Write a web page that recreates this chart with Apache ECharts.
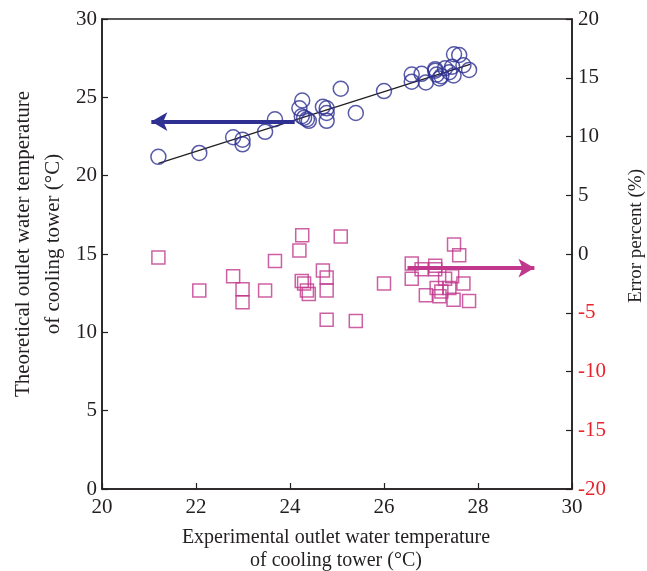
<!DOCTYPE html>
<html>
<head>
<meta charset="utf-8">
<script src="https://cdn.jsdelivr.net/npm/echarts@6/dist/echarts.min.js"></script>
<style>
  html, body { margin: 0; padding: 0; background: #fff; }
  #chart { width: 647px; height: 571px; }
</style>
</head>
<body>
<div id="chart"></div>
<script>
// experimental outlet temperature (x) for each test
const expTemp = [21.2, 22.07, 22.79, 22.99, 22.99, 23.47, 23.68, 24.2, 24.26, 24.25,
  24.3, 24.36, 24.4, 24.7, 24.78, 24.78, 24.78, 25.08, 25.4, 26.0,
  26.59, 26.59, 26.8, 26.89, 27.09, 27.09, 27.12, 27.18, 27.22, 27.3,
  27.39, 27.48, 27.49, 27.6, 27.69, 27.81, 27.45]
// theoretical outlet temperature (left axis)
const theoTemp = [21.2, 21.45, 22.45, 22.3, 22.0, 22.8, 23.6, 24.3, 24.8, 23.8,
  23.7, 23.6, 23.5, 24.4, 24.3, 24.0, 23.5, 25.55, 24.0, 25.4,
  26.45, 26.0, 26.5, 25.95, 26.8, 26.7, 26.45, 26.2, 26.35, 26.85,
  26.6, 26.4, 27.75, 27.7, 27.05, 26.75, 26.95]
// error percent (right axis)
const errPct = [-0.3, -3.1, -1.9, -3.0, -4.1, -3.1, -0.6, 0.3, 1.6, -2.3,
  -2.5, -3.1, -3.4, -1.4, -2.0, -3.1, -5.6, 1.5, -5.7, -2.5,
  -0.8, -2.1, -1.3, -3.5, -1.3, -1.0, -2.9, -3.6, -3.2, -2.1,
  -2.9, -3.9, 0.8, -0.1, -2.5, -4.0, -1.9]
// fitted line end points
const fitLine = [[21.2, 20.79], [27.83, 27.11]]

const ink = '#231f20'
const blue = '#2e3192'
const pink = '#c0378c'
const red = '#e8232b'
const font = '"Liberation Serif", "Times New Roman", serif'

const chart = echarts.init(document.getElementById('chart'))

const axisCommon = {
  axisLine: { show: true, lineStyle: { color: ink, width: 1.5 } },
  axisTick: { show: true, inside: true, length: 6, lineStyle: { color: ink, width: 1.2 } },
  splitLine: { show: false },
  axisLabel: { fontFamily: font, fontSize: 21, color: ink }
}

const option = {
  animation: false,
  grid: {
    left: 102, right: 75, top: 19, bottom: 82,
    show: true, borderColor: ink, borderWidth: 1.5
  },
  xAxis: {
    type: 'value', min: 20, max: 30, interval: 2,
    ...axisCommon,
    axisLabel: { ...axisCommon.axisLabel, margin: 8 }
  },
  yAxis: [
    {
      type: 'value', min: 0, max: 30, interval: 5, position: 'left',
      ...axisCommon,
      axisLabel: { ...axisCommon.axisLabel, margin: 5 }
    },
    {
      type: 'value', min: -20, max: 20, interval: 5, position: 'right',
      ...axisCommon,
      axisLabel: {
        ...axisCommon.axisLabel, margin: 6,
        color: function (v) { return Number(v) < 0 ? red : ink }
      }
    }
  ],
  series: [
    {
      type: 'scatter', yAxisIndex: 0,
      symbol: 'circle', symbolSize: 15,
      itemStyle: { color: 'rgba(0,0,0,0)', borderColor: blue, borderWidth: 1.5 },
      data: expTemp.map((x, i) => [x, theoTemp[i]]),
      z: 3,
      markLine: {
        silent: true, symbol: ['none', 'arrow'], symbolSize: [14, 16],
        label: { show: false },
        lineStyle: { color: blue, width: 4, type: 'solid' },
        data: [[{ coord: [24.1, 23.45] }, { coord: [21.05, 23.45] }]]
      }
    },
    {
      type: 'line', yAxisIndex: 0,
      data: fitLine, symbol: 'none',
      lineStyle: { color: ink, width: 1.3 }, z: 2
    },
    {
      type: 'scatter', yAxisIndex: 1,
      symbol: 'rect', symbolSize: 13,
      itemStyle: { color: 'rgba(0,0,0,0)', borderColor: pink, borderWidth: 1.5 },
      data: expTemp.map((x, i) => [x, errPct[i]]),
      markLine: {
        silent: true, symbol: ['none', 'arrow'], symbolSize: [14, 16],
        label: { show: false },
        lineStyle: { color: pink, width: 4, type: 'solid' },
        data: [[{ coord: [26.5, -1.2] }, { coord: [29.2, -1.2] }]]
      }
    }
  ],
  graphic: [
    {
      type: 'text', x: 38, y: 244, rotation: Math.PI / 2,
      style: {
        text: 'Theoretical outlet water temperature\nof cooling tower (°C)',
        font: '21px ' + font, fill: ink, align: 'center', verticalAlign: 'middle',
        lineHeight: 30
      }
    },
    {
      type: 'text', x: 636, y: 236, rotation: Math.PI / 2,
      style: {
        text: 'Error percent (%)',
        font: '19px ' + font, fill: ink, align: 'center', verticalAlign: 'middle'
      }
    },
    {
      type: 'text', x: 336, y: 549,
      style: {
        text: 'Experimental outlet water temperature\nof cooling tower (°C)',
        font: '20px ' + font, fill: ink, align: 'center', verticalAlign: 'middle',
        lineHeight: 23
      }
    }
  ]
}

chart.setOption(option)
</script>
</body>
</html>
